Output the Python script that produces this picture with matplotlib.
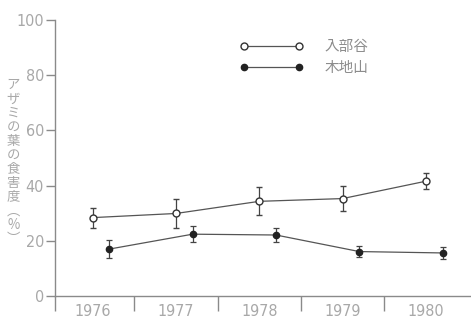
import matplotlib
matplotlib.use("Agg")
import matplotlib.pyplot as plt
from matplotlib.lines import Line2D
from matplotlib import font_manager

# データ
years = [1976, 1977, 1978, 1979, 1980]
iribudani = [28.4, 29.9, 34.3, 35.3, 41.6]
iribudani_err = [3.6, 5.3, 5.1, 4.5, 3.0]
kijiyama = [17.0, 22.4, 22.1, 16.1, 15.6]
kijiyama_err = [3.2, 2.8, 2.5, 2.0, 2.3]
series_names = ["入部谷", "木地山"]
ylabel = "アザミの葉の食害度(%)"

jp = ["Noto Sans CJK JP", "DejaVu Sans"]
num_prop = font_manager.FontProperties(family="DejaVu Sans", stretch="condensed",
                                       size=11.5)
axis_col = "#8a8a8a"
text_col = "#a8a8a8"
line_col = "#555555"

fig = plt.figure(figsize=(4.71, 3.2), dpi=100)
ax = fig.add_axes([0.117, 0.075, 0.883, 0.8625])

offset = 0.2
x_open = [y for y in years]
x_fill = [y + offset for y in years]

ax.errorbar(x_open, iribudani, yerr=iribudani_err, color=line_col, lw=0.9,
            marker="o", ms=5, mfc="white", mec="#333333", mew=1.0,
            ecolor="#444444", elinewidth=0.9, capsize=2.5, capthick=0.9, zorder=3)
ax.errorbar(x_fill, kijiyama, yerr=kijiyama_err, color=line_col, lw=0.9,
            marker="o", ms=4.5, mfc="#222222", mec="#222222",
            ecolor="#444444", elinewidth=0.9, capsize=2.5, capthick=0.9, zorder=3)

ax.set_xlim(years[0] - 0.45, years[-1] + 0.54)
ax.set_ylim(0, 100)

for s in ["top", "right"]:
    ax.spines[s].set_visible(False)
for s in ["left", "bottom"]:
    ax.spines[s].set_color(axis_col)
    ax.spines[s].set_linewidth(1.0)

ax.set_yticks([0, 20, 40, 60, 80, 100])
ax.tick_params(axis="y", direction="out", length=6.5, width=1.0, color=axis_col,
               labelcolor=text_col, pad=1.5)
for t in ax.get_yticklabels():
    t.set_fontproperties(num_prop)

# 年の区切り目盛り
bounds = [years[0] - 0.45] + [y + 0.5 for y in years[:-1]]
ax.set_xticks(bounds)
ax.set_xticklabels([])
ax.tick_params(axis="x", direction="out", length=11, width=1.0, color=axis_col)
ax.set_xticks(years, minor=True)
ax.set_xticklabels([str(y) for y in years], minor=True)
ax.tick_params(axis="x", which="minor", length=0, pad=6, labelcolor=text_col)
for t in ax.get_xticklabels(minor=True):
    t.set_fontproperties(num_prop)

# 凡例
handles = [
    Line2D([], [], color=line_col, lw=0.9, marker="o", ms=5, mfc="white",
           mec="#333333", mew=1.0),
    Line2D([], [], color=line_col, lw=0.9, marker="o", ms=4.5, mfc="#222222",
           mec="#222222"),
]
leg = ax.legend(handles, series_names, numpoints=2, frameon=False,
                loc="upper left", bbox_to_anchor=(0.426, 0.955),
                handlelength=4.4, handletextpad=1.4, labelspacing=0.5,
                borderpad=0, prop={"family": jp, "size": 10.5})
for t in leg.get_texts():
    t.set_color("#8c8c8c")

# 縦書きの軸ラベル
vert = ylabel.replace("(", "\ufe35").replace(")", "\ufe36")
fig.text(0.028, 0.495, "\n".join(vert), family=jp, fontsize=9.6, color=text_col,
         ha="center", va="center", linespacing=1.0)

fig.savefig("out.png", dpi=100)
